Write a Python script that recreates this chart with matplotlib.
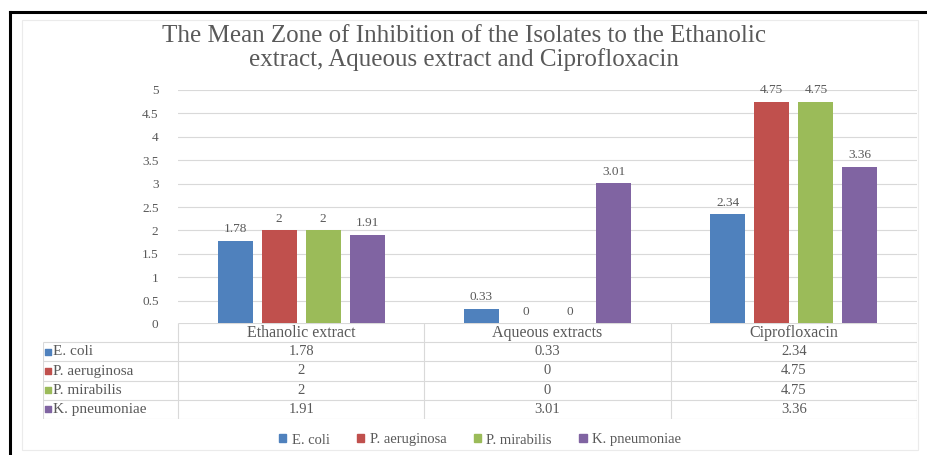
"""
Mean zone of inhibition chart — clustered bars with an Excel-style data table.
"""

import matplotlib
matplotlib.use("Agg")
import matplotlib.pyplot as plt
from matplotlib.lines import Line2D
from matplotlib.patches import Patch, Rectangle

treatments = ["Ethanolic extract", "Aqueous extracts", "Ciprofloxacin"]
isolates = ["E. coli", "P. aeruginosa", "P. mirabilis", "K. pneumoniae"]
e_coli = [1.78, 0.33, 2.34]
p_aeruginosa = [2, 0, 4.75]
p_mirabilis = [2, 0, 4.75]
k_pneumoniae = [1.91, 3.01, 3.36]
series = [e_coli, p_aeruginosa, p_mirabilis, k_pneumoniae]
colors = ["#4F81BD", "#C0504D", "#9BBB59", "#8064A2"]
yticks = [0, 0.5, 1, 1.5, 2, 2.5, 3, 3.5, 4, 4.5, 5]

W, H = 928, 455
TEXT = "#595959"
GRID = "#D9D9D9"
plt.rcParams["font.family"] = ["Liberation Serif", "DejaVu Serif"]


def fx(px):
    return px / W


def fy(py):
    return 1 - py / H


fig = plt.figure(figsize=(W / 100, H / 100), dpi=100)

# outer frame: heavy top/left, faint chart-area box
fig.add_artist(Line2D([fx(10), 1], [fy(12), fy(12)], color="black", lw=2.2))
fig.add_artist(Line2D([fx(10), fx(10)], [fy(12), 0], color="black", lw=2.2))
fig.add_artist(Rectangle((fx(22), fy(450)), fx(918) - fx(22), fy(20) - fy(450),
                         transform=fig.transFigure, fill=False, ec="#EBEBEB", lw=0.8))

fig.text(0.5, fy(48), "The Mean Zone of Inhibition of the Isolates to the Ethanolic\n"
         "extract, Aqueous extract and Ciprofloxacin",
         ha="center", va="center", fontsize=18, color=TEXT, linespacing=1.05)

# bar chart
ax = fig.add_axes([fx(178), fy(324), fx(917) - fx(178), fy(90) - fy(324)])
ax.set_xlim(-0.5, 2.5)
ax.set_ylim(0, 5)
step, width = 0.179, 0.142
for i, (vals, c) in enumerate(zip(series, colors)):
    xs = [k + (i - 1.5) * step for k in range(len(treatments))]
    bars = ax.bar(xs, vals, width, color=c, zorder=3)
    for b, v in zip(bars, vals):
        ax.annotate(f"{v:g}", (b.get_x() + b.get_width() / 2, v),
                    xytext=(0, 4), textcoords="offset points",
                    ha="center", va="bottom", fontsize=9.5, color=TEXT)
ax.set_yticks(yticks)
ax.set_yticklabels([f"{t:g}" for t in yticks])
ax.tick_params(axis="y", length=0, labelsize=9.5, labelcolor=TEXT, pad=14)
ax.set_xticks([])
ax.grid(axis="y", color=GRID, lw=0.8, zorder=0)
for s in ax.spines.values():
    s.set_visible(False)

# data table under the plot, sharing the category positions
label_w = 135 * 3 / 739
xl = -0.5 - label_w
tax = fig.add_axes([fx(43), fy(419), fx(917) - fx(43), fy(323) - fy(419)])
tax.set_xlim(xl, 2.5)
tax.set_ylim(5, 0)
tax.axis("off")
tax.hlines(0, -0.5, 2.5, color=GRID, lw=0.8)
tax.hlines([1, 2, 3, 4, 5], xl, 2.5, color=GRID, lw=0.8)
tax.vlines(xl, 1, 5, color=GRID, lw=0.8)
tax.vlines([-0.5, 0.5, 1.5, 2.5], 0, 5, color=GRID, lw=0.8)
for k, name in enumerate(treatments):
    tax.text(k, 0.5, name, ha="center", va="center", fontsize=11.5, color=TEXT)
for r, (name, vals, c) in enumerate(zip(isolates, series, colors)):
    y = r + 1.5
    tax.scatter(xl + 0.022, y, marker="s", s=16, color=c, clip_on=False)
    tax.text(xl + 0.042, y, name, ha="left", va="center", fontsize=11, color=TEXT)
    for k, v in enumerate(vals):
        tax.text(k, y, f"{v:g}", ha="center", va="center", fontsize=10.5, color=TEXT)

handles = [Patch(color=c, label=n) for n, c in zip(isolates, colors)]
fig.legend(handles=handles, loc="center", bbox_to_anchor=(fx(480), fy(440)),
           ncol=4, frameon=False, fontsize=10.5, labelcolor=TEXT,
           handlelength=0.5, handleheight=0.45, handletextpad=0.35, columnspacing=1.9)

fig.savefig("out.png", dpi=100)
